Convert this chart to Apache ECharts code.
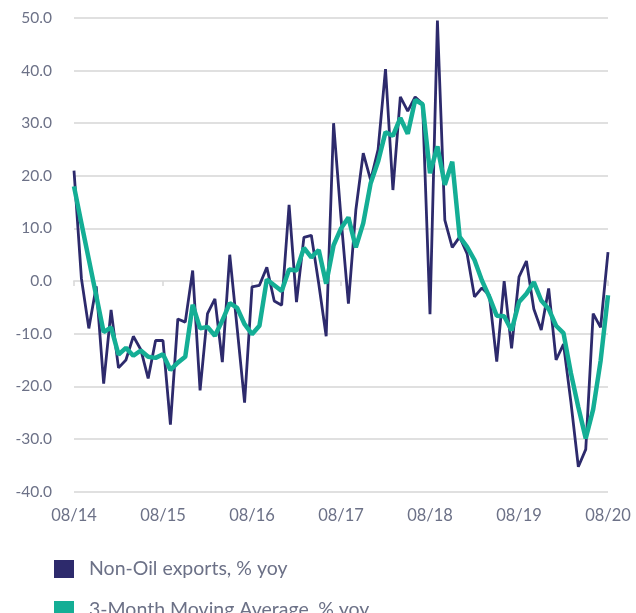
<!DOCTYPE html>
<html lang="en">
<head>
    <meta charset="UTF-8">
    <title>Non-Oil exports</title>
    <script src="https://cdn.jsdelivr.net/npm/echarts@6/dist/echarts.min.js"></script>
    <style>
        html, body { margin: 0; padding: 0; background: #fff; }
        #chart { width: 636px; height: 613px; }
    </style>
</head>
<body>
<div id="chart"></div>
<script>
    // monthly, 08/14 .. 08/20
    const months = [];
    for (let y = 14; y <= 20; y++) {
        const mStart = y === 14 ? 8 : 1;
        const mEnd = y === 20 ? 8 : 12;
        for (let m = mStart; m <= mEnd; m++) {
            months.push((m < 10 ? '0' + m : '' + m) + '/' + y);
        }
    }

    const nonOil = [
        21.0, 0.5, -9.0, -1.0, -19.5, -5.5, -16.5, -15.0, -10.5, -13.0,
        -18.5, -11.3, -11.3, -27.3, -7.2, -7.8, 2.0, -20.8, -6.2, -3.4,
        -15.4, 5.0, -9.0, -23.1, -1.1, -0.8, 2.6, -3.8, -4.6, 14.5,
        -4.0, 8.3, 8.7, -0.5, -10.5, 30.0, 12.0, -4.3, 13.5, 24.3,
        19.2, 25.0, 40.3, 17.3, 35.0, 32.3, 35.0, 33.7, -6.3, 49.5,
        11.6, 6.4, 8.4, 5.2, -3.0, -1.3, -2.7, -15.3, 0.0, -12.8,
        0.8, 3.8, -5.3, -9.3, -1.4, -15.0, -12.0, -23.0, -35.3, -32.0,
        -6.2, -8.8, 5.5
    ];

    const movingAvg = [
        18.0, 11.0, 4.1, -2.8, -9.7, -8.8, -14.0, -12.7, -14.2, -13.2,
        -14.4, -14.6, -13.9, -16.9, -15.5, -14.4, -4.5, -9.0, -8.7, -10.4,
        -7.5, -4.2, -5.1, -8.2, -10.1, -8.5, 0.3, -0.8, -1.9, 2.2,
        2.0, 6.3, 4.5, 5.9, -0.5, 6.8, 10.0, 12.1, 6.4, 11.0,
        18.6, 22.7, 28.3, 27.6, 31.0, 28.0, 34.4, 33.6, 20.5, 25.6,
        18.3, 22.7, 8.4, 6.5, 4.0, 0.1, -3.0, -6.6, -6.7, -9.4,
        -4.0, -2.4, -0.2, -3.7, -5.3, -8.5, -9.9, -17.5, -24.0, -29.9,
        -24.4, -15.2, -2.7
    ];

    const names = ['Non-Oil exports, % yoy', '3-Month Moving Average, % yoy'];
    const labelColor = '#6c7187';
    const font = 'Lato, "Open Sans", sans-serif';

    function legendFor(name, top) {
        return {
            left: 49,
            top: top,
            icon: 'rect',
            itemWidth: 20,
            itemHeight: 18,
            data: [name],
            textStyle: {
                fontFamily: font,
                fontSize: 19.5,
                color: labelColor,
                padding: [0, 0, 0, 10]
            }
        };
    }

    let myChart = echarts.init(document.getElementById('chart'));
    let option = {
        animation: false,
        textStyle: { fontFamily: font },
        grid: { left: 74, right: 28, top: 18, bottom: 121.5 },
        legend: [legendFor(names[0], 554), legendFor(names[1], 595)],
        xAxis: [{
            type: 'category',
            data: months,
            boundaryGap: false,
            position: 'bottom',
            axisLine: { show: false, onZero: false },
            axisTick: { show: false },
            splitLine: { show: false },
            axisLabel: {
                interval: 11,
                margin: 16,
                fontSize: 16.5,
                color: labelColor,
                fontFamily: font
            }
        }, {
            type: 'category',
            data: months,
            boundaryGap: false,
            position: 'top',
            axisLine: { show: true, onZero: true, lineStyle: { color: '#e0e0e0', width: 2 } },
            axisTick: { show: true, inside: true, interval: 11, length: 5, lineStyle: { color: '#d8d8d8', width: 1.5 } },
            axisLabel: { show: false }
        }],
        yAxis: {
            type: 'value',
            min: -40,
            max: 50,
            interval: 10,
            axisLine: { show: false },
            axisTick: { show: false },
            splitLine: { lineStyle: { color: '#e0e0e0', width: 2 } },
            axisLabel: {
                margin: 22,
                fontSize: 15.5,
                color: labelColor,
                fontFamily: font,
                formatter: v => v.toFixed(1)
            }
        },
        series: [{
            name: names[0],
            type: 'line',
            data: nonOil,
            showSymbol: false,
            symbol: 'none',
            itemStyle: { color: '#2d2a6c' },
            lineStyle: { color: '#2d2a6c', width: 2.8 }
        }, {
            name: names[1],
            type: 'line',
            data: movingAvg,
            showSymbol: false,
            symbol: 'none',
            itemStyle: { color: '#14ae95' },
            lineStyle: { color: '#14ae95', width: 4.5 }
        }]
    };
    myChart.setOption(option);
</script>
</body>
</html>
